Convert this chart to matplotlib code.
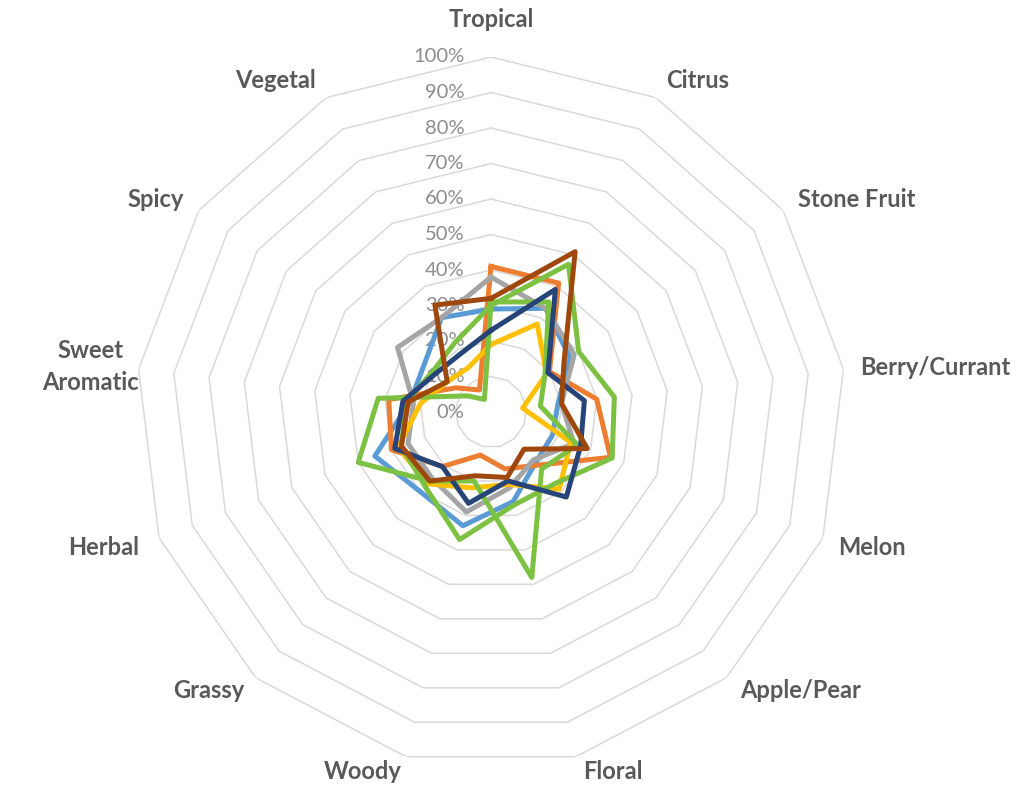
import matplotlib
matplotlib.use("Agg")
import matplotlib.pyplot as plt
import numpy as np

# aroma categories, clockwise from the top
categories = ["Tropical", "Citrus", "Stone Fruit", "Berry/Currant", "Melon",
              "Apple/Pear", "Floral", "Woody", "Grassy", "Herbal",
              "Sweet\nAromatic", "Spicy", "Vegetal"]

# percent of panel per descriptor
light_blue = [29, 33, 27, 19, 18.5, 19, 26, 33, 30, 35, 23, 23, 30]
orange     = [41, 41, 20, 30, 36, 20, 16.5, 12.5, 20.5, 30, 29, 12, 7]
gray       = [38, 33, 28.5, 20, 25, 18, 22, 29, 25, 25, 22, 32, 30]
yellow     = [19, 28, 19, 9, 24, 29, 21, 22, 27, 28, 20, 15, 14]
green_b    = [30, 47, 30, 35, 36.5, 27, 27, 37, 28, 27, 24, 20, 22]
green_a    = [31, 35, 18.5, 14, 26, 21.5, 48, 20, 26, 40, 32, 8, 4]
navy       = [23, 39, 19.5, 26.5, 27, 32, 20, 26.5, 20.6, 29, 25, 19, 18.5]
brown      = [32, 51, 25, 20, 29, 14, 19, 18.5, 26, 27, 23.5, 15, 34]

series = [light_blue, orange, gray, yellow, green_b, green_a, navy, brown]
colors = ["#5B9BD5", "#ED7D31", "#A5A5A5", "#FFC000", "#7CC142", "#7CC142",
          "#264478", "#9E480E"]

levels = list(range(0, 101, 10))

n = len(categories)
theta = np.arange(n) * 2 * np.pi / n
theta_c = np.append(theta, theta[0])

fig = plt.figure(figsize=(10.32, 7.91), dpi=100)
W, H = 1032, 791
cx, cy, R = 491, 412, 355
ax = fig.add_axes([(cx - R) / W, (H - cy - R) / H, 2 * R / W, 2 * R / H],
                  projection="polar")
ax.set_theta_zero_location("N")
ax.set_theta_direction(-1)
ax.set_ylim(0, 100)
ax.grid(False)
ax.spines["polar"].set_visible(False)
ax.set_xticks([])
ax.set_yticks([])
ax.patch.set_alpha(0)

# polygon gridlines
for lv in levels[1:]:
    ax.plot(theta_c, [lv] * (n + 1), color="#D9D9D9", lw=1.1, zorder=1)

# value labels up the vertical axis
for lv in levels:
    ax.annotate(f"{lv}%", (0, lv), xytext=(-19, 0), textcoords="offset points",
                ha="right", va="center", fontsize=14.5, color="#8C8C8C",
                family="Lato", zorder=2)

# data
for vals, col in zip(series, colors):
    ax.plot(theta_c, vals + vals[:1], color=col, lw=3.6,
            solid_joinstyle="round", zorder=3)

# category labels (offset in points from the outer vertex)
offsets = [(0, 27), (7, 12), (11, 8), (12, 1), (11, -7), (10, -9), (5, -11),
           (-3, -11), (-8, -9), (-14, -7), (0, 2), (-11, 8), (-7, 12)]
for t, lab, (dx, dy) in zip(theta, categories, offsets):
    if dx > 1:
        ha = "left"
    elif dx < -1 or lab.startswith("Sweet"):
        ha = "right"
    else:
        ha = "center"
    ax.annotate(lab, (t, 100), xytext=(dx, dy), textcoords="offset points",
                ha=ha, va="center", multialignment="center", fontsize=17,
                fontweight="bold", color="#595959", family="Lato",
                linespacing=1.5, annotation_clip=False)

fig.savefig("out.png", dpi=100, facecolor="white")
